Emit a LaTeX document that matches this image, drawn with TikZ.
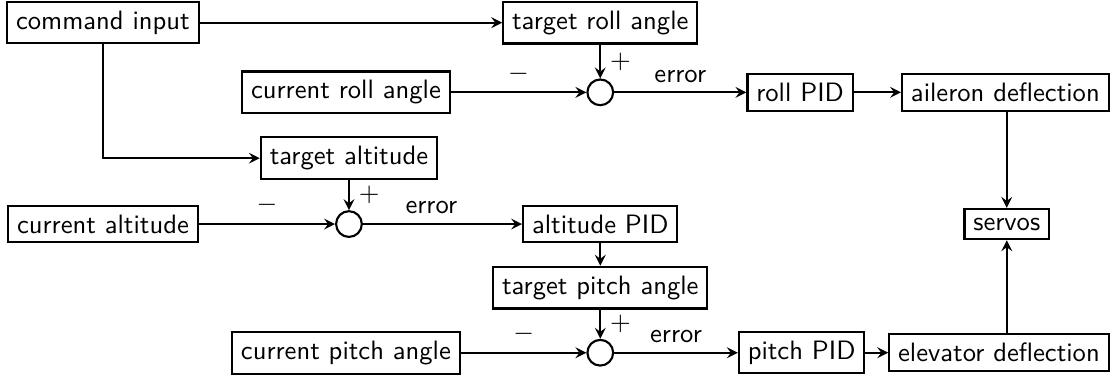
\documentclass[tikz,border=0pt]{standalone}
\usepackage{fontspec}
\usepackage{tikz}
\usetikzlibrary{arrows, positioning}

\begin{document}
\begin{tikzpicture}[
arr/.style={->, >=stealth, thick}, blk/.style={rectangle, draw, thick, font=\sffamily},
sum/.style={circle, draw, thick, minimum size=0.34cm, inner sep=0pt}, lbl/.style={font=\sffamily} ]
\useasboundingbox (0,0) rectangle (14.73,-4.95);
\node[blk] (cmd) at (1.36,-0.30) {command input};
\node[blk] (troll) at (7.93,-0.30) {target roll angle};
\node[blk] (croll) at (4.57,-1.22) {current roll angle};
\node[sum] (sroll) at (7.93,-1.22) {};
\node[blk] (rpid) at (10.57,-1.22) {roll PID};
\node[blk, anchor=east] (ail) at (14.66,-1.22) {aileron deflection};
\node[blk] (talt) at (4.61,-2.09) {target altitude};
\node[blk] (calt) at (1.36,-2.96) {current altitude};
\node[sum] (salt) at (4.61,-2.96) {};
\node[blk] (apid) at (7.93,-2.96) {altitude PID};
\node[blk] (servo) at (13.30,-2.96) {servos};
\node[blk] (tpitch) at (7.93,-3.80) {target pitch angle};
\node[blk] (cpitch) at (4.57,-4.66) {current pitch angle};
\node[sum] (spitch) at (7.93,-4.66) {};
\node[blk] (ppid) at (10.59,-4.66) {pitch PID};
\node[blk, anchor=east] (elev) at (14.66,-4.66) {elevator deflection};
\draw[arr] (cmd) -- (troll);
\draw[arr] (cmd.south) |- (talt);
\draw[arr] (troll) -- node[right]{$+$} (sroll);
\draw[arr] (croll) -- node[above]{$-$} (sroll);
\draw[arr] (sroll) -- node[above, lbl]{error} (rpid);
\draw[arr] (rpid) -- (ail);
\draw[arr] (ail.south -| servo) -- (servo);
\draw[arr] (talt) -- node[right]{$+$} (salt);
\draw[arr] (calt) -- node[above]{$-$} (salt);
\draw[arr] (salt) -- node[above, pos=0.43, lbl]{error} (apid);
\draw[arr] (apid) -- (tpitch);
\draw[arr] (tpitch) -- node[right]{$+$} (spitch);
\draw[arr] (cpitch) -- node[above]{$-$} (spitch);
\draw[arr] (spitch) -- node[above, lbl]{error} (ppid);
\draw[arr] (ppid) -- (elev);
\draw[arr] (elev.north -| servo) -- (servo);
\end{tikzpicture}
\end{document}
